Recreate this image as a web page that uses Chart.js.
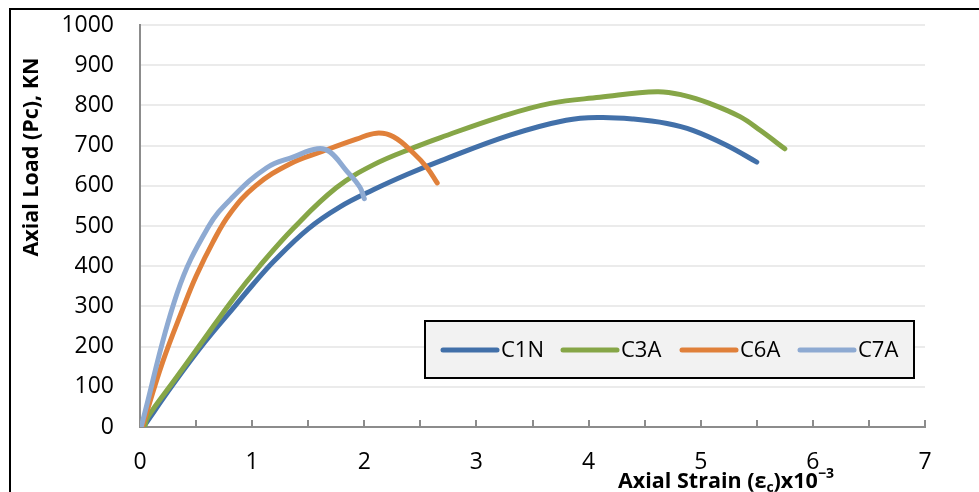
<!DOCTYPE html>
<html><head><meta charset="utf-8">
<script src="https://cdn.jsdelivr.net/npm/chart.js@4.4.1/dist/chart.umd.min.js"></script>
<style>html,body{margin:0;padding:0;background:#fff}#wrap{width:979px;height:492px}</style>
</head><body><div id="wrap"><canvas id="c" width="979" height="492"></canvas></div>
<script>
// ---- data ----
const seriesNames = ['C1N', 'C3A', 'C6A', 'C7A'];
const seriesColors = ['#4270a9', '#86a647', '#e0803a', '#8eaad2'];

const c1nStrain = [0.03, 0.3, 0.58, 0.85, 1.0, 1.2, 1.5, 1.78, 2.08, 2.38, 2.68, 3.3, 3.8, 4.1, 4.4, 4.7, 4.93, 5.23, 5.5];
const c1nLoad   = [0,    108, 212,  302,  352, 414, 493, 547,  590,  628,  662,  726, 763, 770, 766, 755, 738,  701,  659];

const c3aStrain = [0.04, 0.07, 0.3, 0.55, 0.83, 1.06, 1.37, 1.75, 2.08, 2.47, 2.68, 3.21, 3.66, 4.1, 4.61, 4.85, 5.08, 5.35, 5.53, 5.75];
const c3aLoad   = [0,    25,   114, 210,  318,  398,  495,  595,  652,  698,  720,  771,  805,  820, 834,  825,  805,  772,  738,  692];

const c6aStrain = [0.02, 0.2, 0.39, 0.5, 0.65, 0.8, 1.03, 1.34, 1.63, 1.93, 2.11, 2.26, 2.44, 2.56, 2.65];
const c6aLoad   = [0,    160, 300,  375, 460,  530, 600,  655,  686,  716,  731,  722,  681,  645,  607];

const c7aStrain = [0.01, 0.33, 0.61, 0.82, 1.13, 1.37, 1.58, 1.69, 1.84, 1.96, 2.0];
const c7aLoad   = [0,    332,  498,  570,  645,  672,  692,  685,  638,  597,  568];

const xTicks = [0, 1, 2, 3, 4, 5, 6, 7];
const yTitle = 'Axial Load (Pc), KN';
const xTitleParts = ['Axial Strain (ε', 'c', ')x10', '−3'];

const FONT = "'Open Sans', 'Noto Sans', sans-serif";

function pts(xs, ys) { return xs.map((x, i) => ({x: x, y: ys[i]})); }
const allStrain = [c1nStrain, c3aStrain, c6aStrain, c7aStrain];
const allLoad = [c1nLoad, c3aLoad, c6aLoad, c7aLoad];

const datasets = seriesNames.map((n, i) => ({
  label: n,
  data: pts(allStrain[i], allLoad[i]),
  borderColor: seriesColors[i],
  backgroundColor: seriesColors[i],
  borderWidth: 5,
  borderCapStyle: 'round',
  borderJoinStyle: 'round',
  pointRadius: 0,
  tension: 0.4,
  fill: false,
  order: 3 - i
}));

const decor = {
  id: 'decor',
  beforeDraw(chart) {
    const ctx = chart.ctx;
    ctx.save();
    ctx.strokeStyle = '#000';
    ctx.lineWidth = 2;
    ctx.beginPath();
    ctx.moveTo(10, 492); ctx.lineTo(10, 9); ctx.lineTo(979, 9);
    ctx.stroke();
    ctx.restore();
  },
  afterDraw(chart) {
    const ctx = chart.ctx;
    const xs = chart.scales.x, ys = chart.scales.y;
    ctx.save();
    // inside tick marks on x axis
    ctx.strokeStyle = '#8c8c8c';
    ctx.lineWidth = 2;
    const bottom = ys.getPixelForValue(0);
    xs.ticks.forEach(t => {
      if (t.value === 0) return;
      const px = Math.round(xs.getPixelForValue(t.value));
      ctx.beginPath(); ctx.moveTo(px, bottom); ctx.lineTo(px, bottom - 7); ctx.stroke();
    });
    // y title
    ctx.fillStyle = '#000';
    ctx.font = 'bold 21.5px ' + FONT;
    ctx.textAlign = 'center';
    ctx.textBaseline = 'middle';
    ctx.translate(32, 157);
    ctx.rotate(-Math.PI / 2);
    ctx.fillText(yTitle, 0, 0);
    ctx.setTransform(1, 0, 0, 1, 0, 0);
    // x title with subscript / superscript
    ctx.textAlign = 'left';
    ctx.textBaseline = 'alphabetic';
    let x = 618; const base = 488;
    const big = 'bold 21.5px ' + FONT, small = 'bold 14px ' + FONT;
    ctx.font = big; ctx.fillText(xTitleParts[0], x, base); x += ctx.measureText(xTitleParts[0]).width;
    ctx.font = small; ctx.fillText(xTitleParts[1], x, base + 4); x += ctx.measureText(xTitleParts[1]).width;
    ctx.font = big; ctx.fillText(xTitleParts[2], x, base); x += ctx.measureText(xTitleParts[2]).width;
    ctx.font = small; ctx.fillText(xTitleParts[3], x, base - 10);
    // legend
    ctx.fillStyle = '#f2f2f2';
    ctx.fillRect(425, 321, 489, 57);
    ctx.strokeStyle = '#000';
    ctx.lineWidth = 2;
    ctx.strokeRect(425, 321, 489, 57);
    const lineX = [443, 563, 682, 800];
    const cy = 350;
    ctx.font = '22px ' + FONT;
    ctx.textBaseline = 'middle';
    chart.data.datasets.forEach((d, i) => {
      ctx.strokeStyle = d.borderColor;
      ctx.lineWidth = 5;
      ctx.lineCap = 'round';
      ctx.beginPath(); ctx.moveTo(lineX[i], cy); ctx.lineTo(lineX[i] + 54, cy); ctx.stroke();
      ctx.fillStyle = '#000';
      ctx.fillText(d.label, lineX[i] + 58, cy + 1);
    });
    ctx.restore();
  }
};

new Chart(document.getElementById('c'), {
  type: 'line',
  data: { datasets: datasets },
  options: {
    responsive: false,
    animation: false,
    layout: { padding: { top: 25, right: 54, left: 0, bottom: 0 } },
    plugins: { legend: { display: false }, tooltip: { enabled: false } },
    scales: {
      x: {
        type: 'linear', min: 0, max: 7,
        afterFit(s) { s.height = 65; s.paddingLeft = 0; s.paddingRight = 0; },
        afterBuildTicks(s) {
          const t = [];
          for (let v = 0; v <= 7.001; v += 0.5) t.push({ value: Math.round(v * 10) / 10 });
          s.ticks = t;
        },
        ticks: {
          autoSkip: false, maxRotation: 0, padding: 22,
          color: '#000', font: { family: FONT, size: 23 },
          callback: v => (xTicks.includes(v) ? String(v) : '')
        },
        grid: { display: true, drawOnChartArea: false, drawTicks: false },
        border: { display: true, color: '#8c8c8c', width: 2 }
      },
      y: {
        min: 0, max: 1000,
        afterFit(s) { s.width = 140; s.paddingTop = 0; s.paddingBottom = 0; },
        ticks: {
          stepSize: 100, padding: 26,
          color: '#000', font: { family: FONT, size: 23 },
          callback: v => String(v)
        },
        grid: { color: '#ebebeb', lineWidth: 2, drawTicks: false },
        border: { display: true, color: '#8c8c8c', width: 2 }
      }
    }
  },
  plugins: [decor]
});
</script>
</body></html>
